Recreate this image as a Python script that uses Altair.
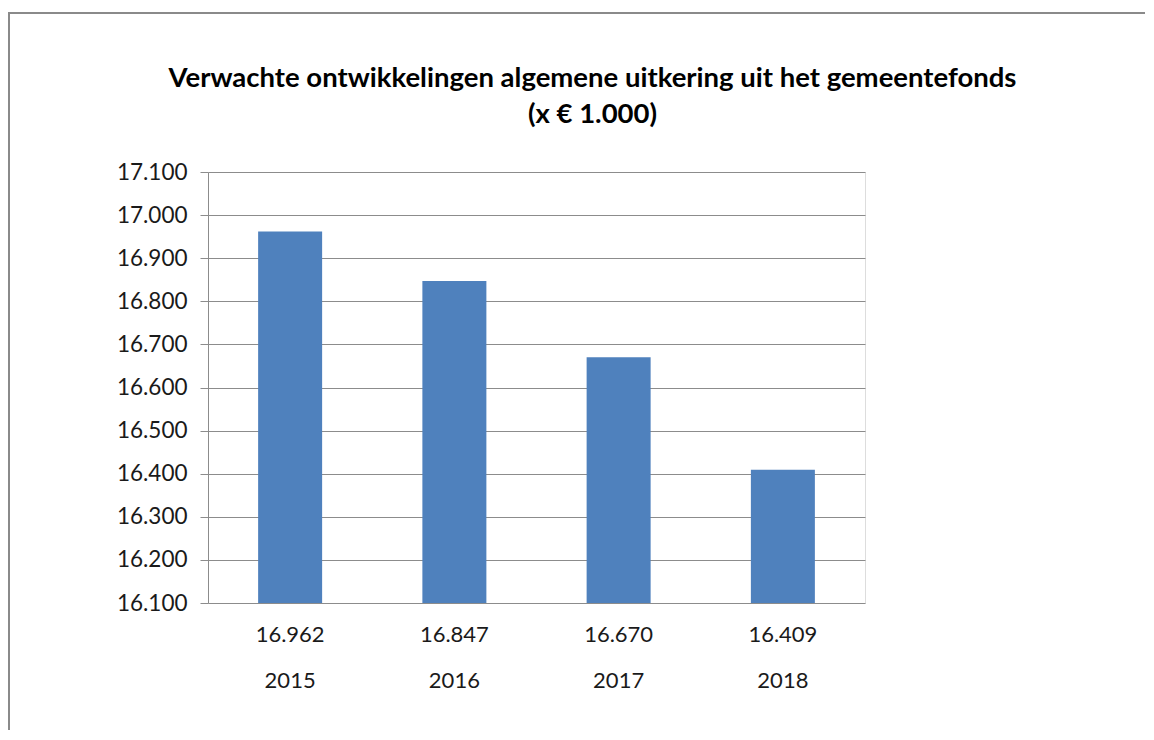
import altair as alt
import pandas as pd

years = ["2015", "2016", "2017", "2018"]
values = [16962, 16847, 16670, 16409]
y_ticks = [16100, 16200, 16300, 16400, 16500, 16600, 16700, 16800, 16900, 17000, 17100]
labels = [f"{v:,}".replace(",", ".") for v in values]
title_lines = ["Verwachte ontwikkelingen algemene uitkering uit het gemeentefonds", "(x € 1.000)"]

df = pd.DataFrame({"jaar": years, "waarde": values, "label": labels})
one = pd.DataFrame({"k": [0]})

FONT = "Lato"
TXT = "#1a1a1a"
GRID = "#8c8c8c"
W, H = 657, 431

xscale = alt.Scale(domain=years, paddingInner=0, paddingOuter=0)

x_main = alt.X(
    "jaar:N", scale=xscale, sort=years,
    axis=alt.Axis(title=None, labels=False, domain=True, domainColor=GRID,
                  ticks=True, tickBand="extent", tickSize=94,
                  tickColor="#a6a6a6", tickWidth=1, grid=False),
)
x_plain = alt.X("jaar:N", scale=xscale, sort=years, axis=None)

bars = alt.Chart(df).mark_bar(size=64, color="#4F81BD").encode(
    x=x_main,
    y=alt.Y(
        "waarde:Q",
        scale=alt.Scale(domain=[16100, 17100], zero=False, nice=False),
        axis=alt.Axis(
            title=None, values=y_ticks, grid=True, gridColor=GRID, gridWidth=1,
            domain=True, domainColor=GRID, ticks=True, tickSize=8, tickColor=GRID,
            labelFont=FONT, labelFontSize=22.5, labelColor=TXT, labelPadding=13,
            labelExpr="replace(format(datum.value, ','), ',', '.')",
        ),
    ),
    y2=alt.datum(16100),
)

val_text = alt.Chart(df).mark_text(font=FONT, fontSize=22, color=TXT, baseline="middle").encode(
    x=x_plain, y=alt.value(H + 32), text="label:N"
)
year_text = alt.Chart(df).mark_text(font=FONT, fontSize=22, color=TXT, baseline="middle").encode(
    x=x_plain, y=alt.value(H + 78), text="jaar:N"
)

title1 = alt.Chart(one).mark_text(font=FONT, fontSize=27.5, fontWeight="bold", color="#000000",
                                  align="center", baseline="alphabetic").encode(
    x=alt.value(384.5), y=alt.value(-85), text=alt.value(title_lines[0])
)
title2 = alt.Chart(one).mark_text(font=FONT, fontSize=27.5, fontWeight="bold", color="#000000",
                                  align="center", baseline="alphabetic").encode(
    x=alt.value(384.5), y=alt.value(-49), text=alt.value(title_lines[1])
)

border_left = alt.Chart(one).mark_rule(color="#8a8a8a", strokeWidth=2).encode(
    x=alt.value(-199), y=alt.value(-159), y2=alt.value(H + 140)
)
border_top = alt.Chart(one).mark_rule(color="#8a8a8a", strokeWidth=2).encode(
    x=alt.value(-200), x2=alt.value(W + 300), y=alt.value(-159)
)

chart = alt.layer(bars, val_text, year_text, title1, title2, border_left, border_top).properties(
    width=W, height=H,
    autosize=alt.AutoSizeParams(type="none"),
    padding={"left": 200, "top": 164, "right": 280, "bottom": 127},
).configure_view(stroke=None).configure(background="white")

chart.save("out.html", embed_options={"renderer": "svg", "actions": False})
